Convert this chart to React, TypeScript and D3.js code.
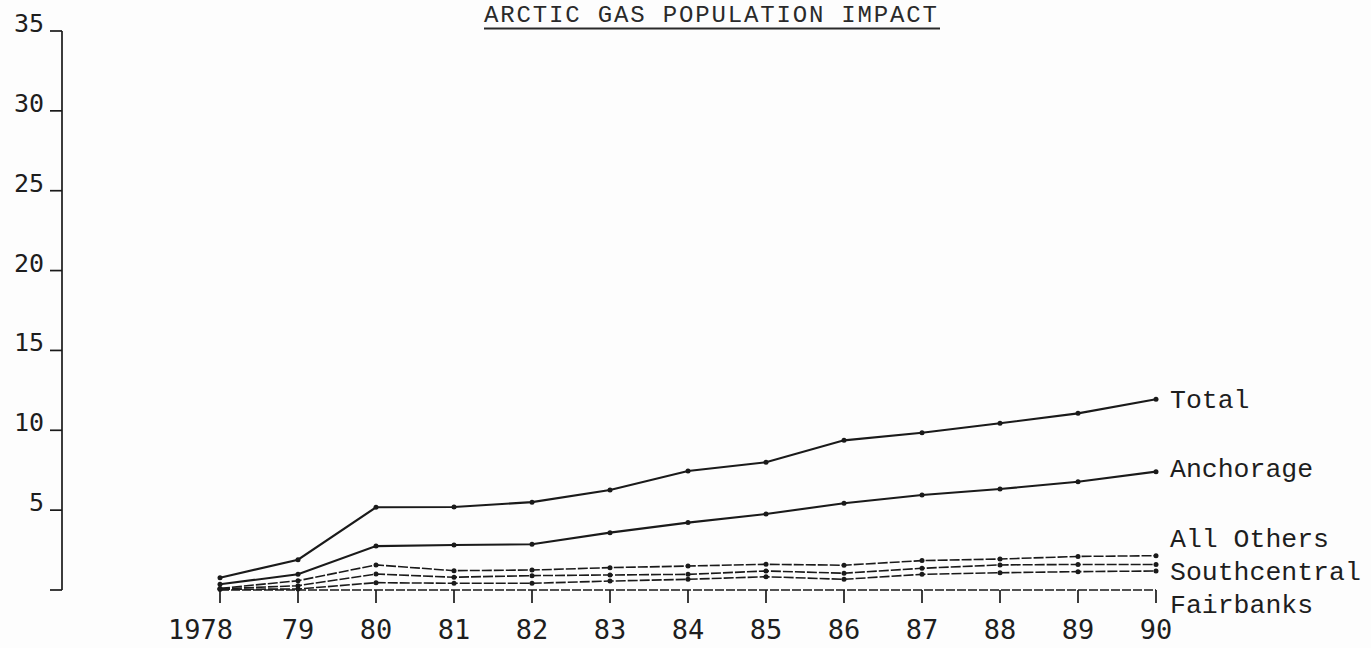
import React from "react";
import * as d3 from "d3";

const years = [1978, 1979, 1980, 1981, 1982, 1983, 1984, 1985, 1986, 1987, 1988, 1989, 1990];
const yearLabels = ["1978", "79", "80", "81", "82", "83", "84", "85", "86", "87", "88", "89", "90"];
const yTicks = [0, 5, 10, 15, 20, 25, 30, 35];

const total = [0.77, 1.9, 5.18, 5.2, 5.5, 6.26, 7.45, 8.0, 9.37, 9.85, 10.44, 11.06, 11.94];
const anchorage = [0.36, 0.98, 2.75, 2.82, 2.86, 3.59, 4.22, 4.76, 5.43, 5.95, 6.32, 6.78, 7.41];
const allOthers = [0.1, 0.58, 1.57, 1.21, 1.25, 1.4, 1.5, 1.61, 1.55, 1.84, 1.94, 2.1, 2.15];
const southcentral = [0.07, 0.27, 1.0, 0.8, 0.9, 0.94, 0.98, 1.19, 1.05, 1.36, 1.57, 1.6, 1.6];
const fairbanks = [0.04, 0.06, 0.46, 0.42, 0.42, 0.56, 0.67, 0.83, 0.67, 0.98, 1.08, 1.15, 1.19];

const seriesNames = ["Total", "Anchorage", "All Others", "Southcentral", "Fairbanks"];
const seriesValues = [total, anchorage, allOthers, southcentral, fairbanks];
const labelBaselines = [408, 477, 547, 580, 613];
const dashed = [false, false, true, true, true];

const title = "ARCTIC GAS POPULATION IMPACT";

export default function App() {
  const W = 1371;
  const H = 648;
  const x = d3.scaleLinear().domain([1978, 1990]).range([220, 1156]);
  const y = d3.scaleLinear().domain([0, 35]).range([590, 31]);
  const line = d3
    .line<number>()
    .x((_, i) => x(years[i]))
    .y((d) => y(d));
  const ink = "#1a1a1a";
  const axisY = y(0);

  return (
    <svg
      width={W}
      height={H}
      style={{ position: "absolute", left: 0, top: 0, background: "#fdfdfd" }}
    >
      <rect x={0} y={0} width={W} height={H} fill="#fdfdfd" />
      {/* title */}
      <text
        x={484}
        y={22}
        fontFamily="'Liberation Mono', monospace"
        fontSize={24}
        textLength={453}
        lengthAdjust="spacing"
        fill="#2a2a2a"
      >
        {title}
      </text>
      <line x1={484} x2={940} y1={28.5} y2={28.5} stroke="#2a2a2a" strokeWidth={2} />

      {/* y axis */}
      <line x1={62} x2={62} y1={y(35)} y2={y(0)} stroke={ink} strokeWidth={1.7} />
      {yTicks.map((t) => (
        <g key={t}>
          <line x1={50} x2={62} y1={y(t)} y2={y(t)} stroke={ink} strokeWidth={1.7} />
          {t > 0 && (
            <text
              x={44}
              y={y(t) + 1}
              textAnchor="end"
              fontFamily="'DejaVu Sans Mono', monospace"
              fontSize={25}
              fill="#1e1e1e"
            >
              {t}
            </text>
          )}
        </g>
      ))}

      {/* x axis */}
      <line
        x1={x(1978)}
        x2={x(1990)}
        y1={axisY}
        y2={axisY}
        stroke={ink}
        strokeWidth={1.5}
        strokeDasharray="9 2"
      />
      {years.map((yr, i) => (
        <g key={yr}>
          <line x1={x(yr)} x2={x(yr)} y1={axisY} y2={axisY + 13} stroke={ink} strokeWidth={1.7} />
          <text
            x={i === 0 ? x(yr) + 13 : x(yr)}
            y={639}
            textAnchor={i === 0 ? "end" : "middle"}
            fontFamily="'DejaVu Sans Mono', monospace"
            fontSize={27}
            fill="#1e1e1e"
          >
            {yearLabels[i]}
          </text>
        </g>
      ))}

      {/* series */}
      {seriesValues.map((vals, si) => (
        <g key={seriesNames[si]}>
          <path
            d={line(vals) || ""}
            fill="none"
            stroke={ink}
            strokeWidth={dashed[si] ? 1.6 : 2.1}
            strokeDasharray={dashed[si] ? "10 2" : undefined}
          />
          {vals.map((v, i) => (
            <circle key={i} cx={x(years[i])} cy={y(v)} r={2.5} fill={ink} />
          ))}
          <text
            x={1170}
            y={labelBaselines[si]}
            fontFamily="'Liberation Mono', monospace"
            fontSize={26.5}
            fill="#1e1e1e"
          >
            {seriesNames[si]}
          </text>
        </g>
      ))}
    </svg>
  );
}
